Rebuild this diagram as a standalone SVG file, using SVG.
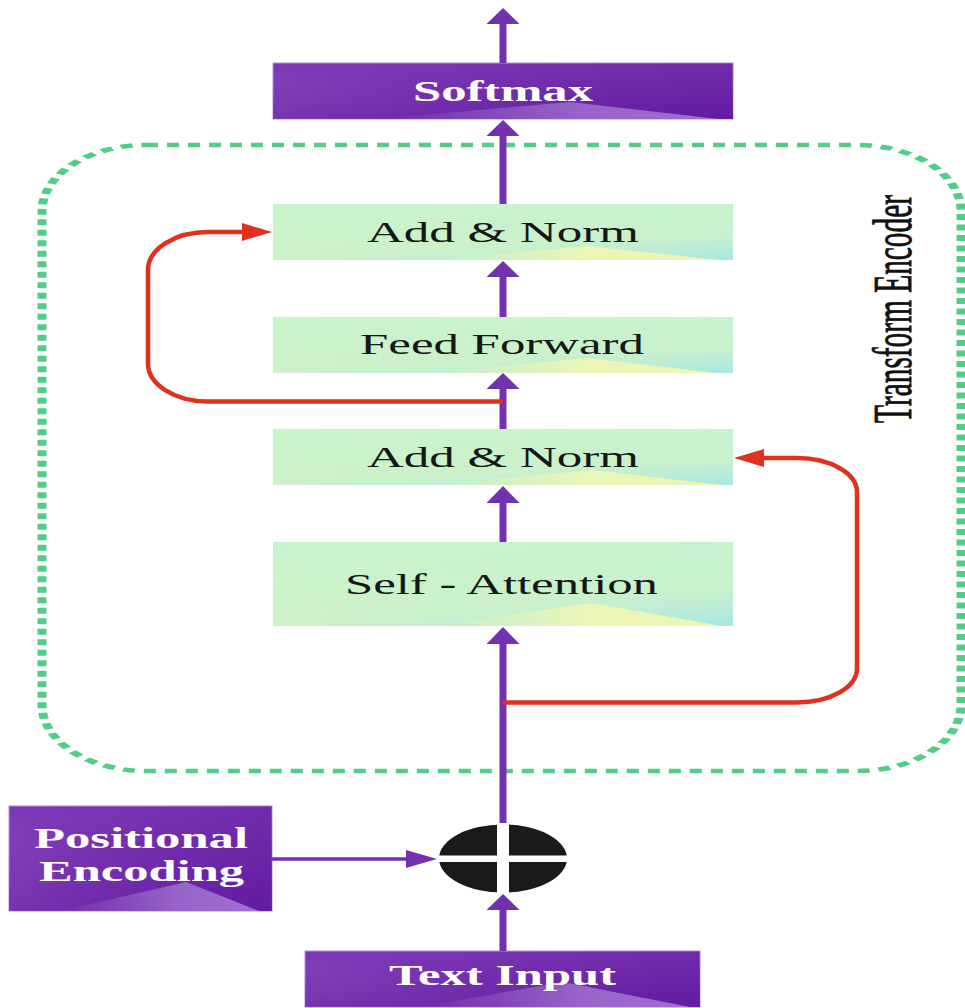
<svg xmlns="http://www.w3.org/2000/svg" width="965" height="1008" viewBox="0 0 965 1008">
  <defs>
    <linearGradient id="gGreen" x1="0" y1="0" x2="0.15" y2="1">
      <stop offset="0" stop-color="#c5f3cf"/>
      <stop offset="1" stop-color="#dcf5bf"/>
    </linearGradient>
    <linearGradient id="gCyan" x1="0.5" y1="0" x2="1" y2="1">
      <stop offset="0" stop-color="#a9e8e2" stop-opacity="0"/>
      <stop offset="0.6" stop-color="#b3eadc" stop-opacity="0.35"/>
      <stop offset="1" stop-color="#a6e6e4" stop-opacity="1"/>
    </linearGradient>
    <linearGradient id="gYellow" x1="0" y1="0" x2="1" y2="0">
      <stop offset="0" stop-color="#eef6b4" stop-opacity="0"/>
      <stop offset="0.55" stop-color="#eef6b4" stop-opacity="0.95"/>
      <stop offset="1" stop-color="#eaf5b6" stop-opacity="1"/>
    </linearGradient>
    <linearGradient id="gPurple" x1="0" y1="1" x2="1" y2="0">
      <stop offset="0" stop-color="#8e52c2"/>
      <stop offset="0.5" stop-color="#7b37b5"/>
      <stop offset="1" stop-color="#7230ae"/>
    </linearGradient>
    <linearGradient id="gPurpleDark" x1="0.5" y1="0" x2="1" y2="1">
      <stop offset="0" stop-color="#5e159c" stop-opacity="0"/>
      <stop offset="1" stop-color="#5e159c" stop-opacity="0.85"/>
    </linearGradient>
    <linearGradient id="gLilac" x1="0" y1="0" x2="1" y2="0">
      <stop offset="0" stop-color="#a172d0" stop-opacity="0"/>
      <stop offset="0.6" stop-color="#9d6bcd" stop-opacity="0.9"/>
      <stop offset="1" stop-color="#a070d0" stop-opacity="1"/>
    </linearGradient>
  </defs>
  <style>
    .green { fill: url(#gGreen); }
    .cyan { fill: url(#gCyan); }
    .yellow { fill: url(#gYellow); }
    .purple { fill: url(#gPurple); stroke: #b58ddc; stroke-width: 1; }
    .pdark { fill: url(#gPurpleDark); }
    .lilac { fill: url(#gLilac); }
    .lbl { font-family: "Liberation Serif", "Times New Roman", serif; font-size: 30px; fill: #161616; text-anchor: middle; }
    .wlbl { font-family: "Liberation Serif", "Times New Roman", serif; font-size: 30px; font-weight: bold; fill: #ffffff; text-anchor: middle; }
    .pline { stroke: #7331b0; stroke-width: 7; fill: none; }
    .phline { stroke: #7331b0; stroke-width: 3.5; fill: none; }
    .phead { fill: #7331b0; }
    .rline { stroke: #e0301e; stroke-width: 4.5; fill: none; }
    .rhead { fill: #e0301e; }
    .dash { fill: none; stroke: #52cc86; stroke-width: 4.5; stroke-dasharray: 6 4.5; }
  </style>

  <!-- Encoder boundary -->
  <g id="encoder">
    <rect class="dash" transform="scale(2,1)" x="21" y="145" width="459.5" height="626" rx="52" ry="66"/>
    <text transform="translate(911,309) rotate(-90)" font-family="'Liberation Serif', 'Times New Roman', serif" font-size="54" fill="#111" stroke="#111" stroke-width="0.9" text-anchor="middle" textLength="228" lengthAdjust="spacingAndGlyphs">Transform Encoder</text>
  </g>

  <g id="softmax">
    <rect class="purple" x="273" y="63" width="460" height="56"/>
    <rect class="pdark" x="273" y="63" width="460" height="56"/>
    <polygon class="lilac" points="380,119 570,102 718,119"/>
    <text class="wlbl" x="503" y="101" font-size="32" textLength="180" lengthAdjust="spacingAndGlyphs">Softmax</text>
  </g>

  <g id="addnorm1">
    <rect class="green" x="273" y="204" width="460" height="56"/>
    <rect class="cyan" x="273" y="204" width="460" height="56"/>
    <polygon class="yellow" points="430,260 588,246 720,260"/>
    <text class="lbl" x="503" y="242" textLength="272" lengthAdjust="spacingAndGlyphs">Add &amp; Norm</text>
  </g>

  <g id="feedforward">
    <rect class="green" x="273" y="317" width="460" height="56"/>
    <rect class="cyan" x="273" y="317" width="460" height="56"/>
    <polygon class="yellow" points="430,373 588,358 717,373"/>
    <text class="lbl" x="502" y="354" textLength="284" lengthAdjust="spacingAndGlyphs">Feed Forward</text>
  </g>

  <g id="addnorm2">
    <rect class="green" x="273" y="429" width="460" height="56"/>
    <rect class="cyan" x="273" y="429" width="460" height="56"/>
    <polygon class="yellow" points="430,485 592,470 722,485"/>
    <text class="lbl" x="503" y="467" textLength="272" lengthAdjust="spacingAndGlyphs">Add &amp; Norm</text>
  </g>

  <g id="selfattention">
    <rect class="green" x="273" y="542" width="460" height="84"/>
    <rect class="cyan" x="273" y="542" width="460" height="84"/>
    <polygon class="yellow" points="430,626 592,603 722,626"/>
    <text class="lbl" x="501.5" y="594" textLength="313" lengthAdjust="spacingAndGlyphs">Self - Attention</text>
  </g>

  <g id="positional">
    <rect class="purple" x="9" y="806" width="263" height="105"/>
    <rect class="pdark" x="9" y="806" width="263" height="105"/>
    <polygon class="lilac" points="60,911 186,882 259,911"/>
    <text class="wlbl" x="141" y="848" font-size="29" textLength="214" lengthAdjust="spacingAndGlyphs">Positional</text>
    <text class="wlbl" x="141.5" y="881" font-size="29" textLength="205" lengthAdjust="spacingAndGlyphs">Encoding</text>
  </g>

  <g id="adder">
    <ellipse cx="503" cy="858.5" rx="64" ry="34" fill="#1a1a1a"/>
    <rect x="497" y="823" width="12" height="72" fill="#ffffff"/>
    <rect x="437" y="855.5" width="132" height="6.5" fill="#ffffff"/>
  </g>

  <g id="textinput">
    <rect class="purple" x="305" y="951" width="395" height="56"/>
    <rect class="pdark" x="305" y="951" width="395" height="56"/>
    <polygon class="lilac" points="420,1007 563,982 690,1007"/>
    <text class="wlbl" x="502.5" y="985" textLength="227" lengthAdjust="spacingAndGlyphs">Text Input</text>
  </g>

  <g id="connectors">
    <!-- purple main flow -->
    <line class="pline" x1="503" y1="63" x2="503" y2="22"/>
    <polygon class="phead" points="503,8 486.5,24 519.5,24"/>
    <line class="pline" x1="503" y1="204" x2="503" y2="134"/>
    <polygon class="phead" points="503,120 486.5,136 519.5,136"/>
    <line class="pline" x1="503" y1="317" x2="503" y2="275"/>
    <polygon class="phead" points="503,261 486.5,277 519.5,277"/>
    <line class="pline" x1="503" y1="429" x2="503" y2="387"/>
    <polygon class="phead" points="503,373 486.5,389 519.5,389"/>
    <line class="pline" x1="503" y1="542" x2="503" y2="501"/>
    <polygon class="phead" points="503,486 486.5,503 519.5,503"/>
    <line class="pline" x1="503" y1="823" x2="503" y2="642"/>
    <polygon class="phead" points="503,627 486.5,644 519.5,644"/>
    <line class="pline" x1="503" y1="951" x2="503" y2="908"/>
    <polygon class="phead" points="503,894 486.5,910 519.5,910"/>
    <line class="phline" x1="272" y1="859" x2="410" y2="859"/>
    <polygon class="phead" points="437,859 406,850 406,868"/>
    <!-- residual connections -->
    <path class="rline" d="M503,401.5 H208 A60,38 0 0 1 148,363.5 V270 A60,38 0 0 1 208,232 H244"/>
    <polygon class="rhead" points="272,232 242,223 242,241"/>
    <path class="rline" d="M503,702.5 H797 A60,34 0 0 0 857,668.5 V492 A60,34 0 0 0 797,458 H762"/>
    <polygon class="rhead" points="734,458 764,449 764,467"/>
  </g>
</svg>
